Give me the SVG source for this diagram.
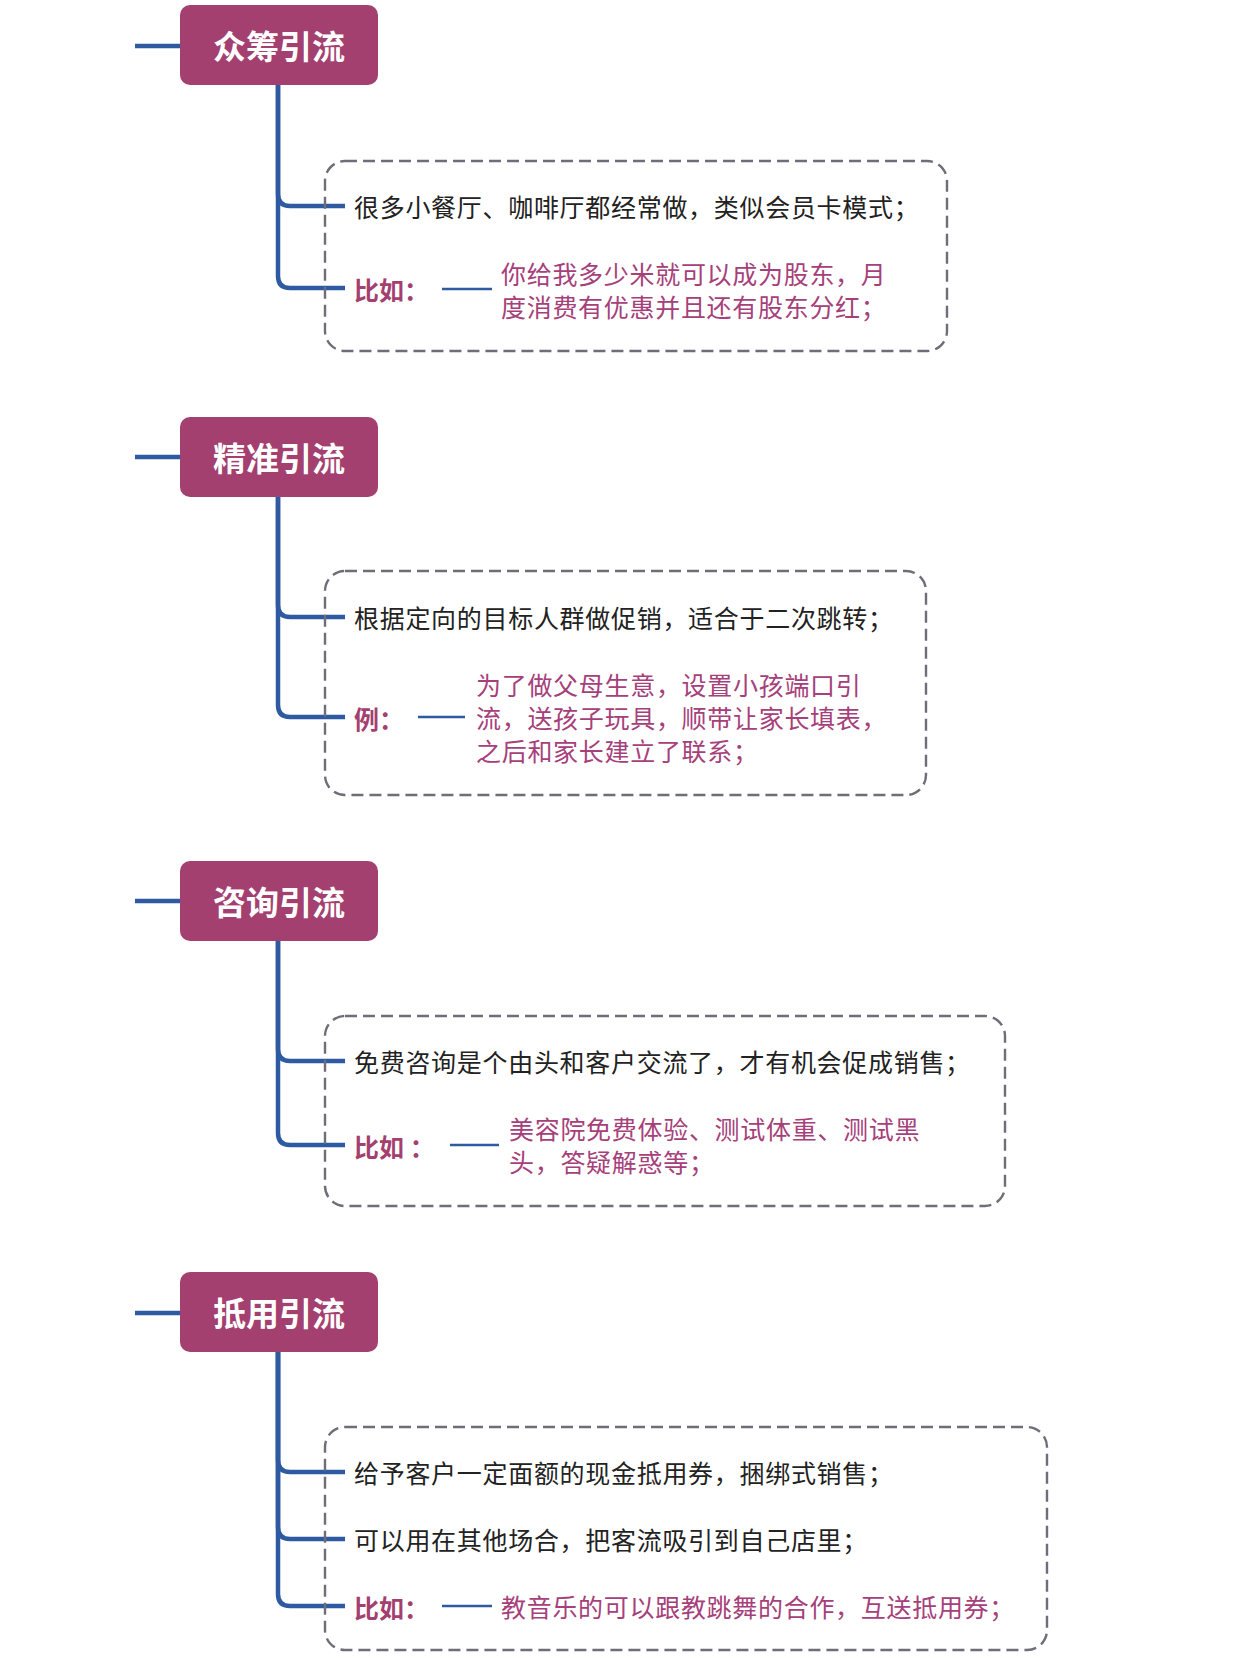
<svg xmlns="http://www.w3.org/2000/svg" width="1244" height="1658" viewBox="0 0 1244 1658">
<style>
.node rect{fill:#a3406f;}
.node text{fill:#ffffff;font-family:"Noto Sans CJK SC","Noto Sans",sans-serif;font-size:33px;font-weight:bold;text-anchor:middle;dominant-baseline:central;}
.box{fill:none;stroke:#6e6e78;stroke-width:2.4;stroke-dasharray:12 6;}
.link{fill:none;stroke:#2d5aa0;stroke-width:4.5;stroke-linecap:butt;}
.dash{fill:none;stroke:#2d5aa0;stroke-width:2.5;}
.t{font-family:"Noto Sans CJK SC","Noto Sans",sans-serif;font-size:25px;letter-spacing:0.7px;fill:#222222;dominant-baseline:central;}
.m{font-family:"Noto Sans CJK SC","Noto Sans",sans-serif;font-size:25px;letter-spacing:0.7px;fill:#a6407a;dominant-baseline:central;}
.lb{font-family:"Noto Sans CJK SC","Noto Sans",sans-serif;font-size:25px;font-weight:bold;fill:#a3406f;dominant-baseline:central;}
</style>
<rect width="1244" height="1658" fill="#ffffff"/>
<g id="connectors">
  <path class="link" d="M135 46 H182"/>
  <path class="link" d="M278 84 V194 Q278 206 290 206 H345"/>
  <path class="link" d="M278 84 V276 Q278 288 290 288 H345"/>
  <path class="dash" d="M442 289 H492"/>

  <path class="link" d="M135 457 H182"/>
  <path class="link" d="M278 496 V605 Q278 617 290 617 H345"/>
  <path class="link" d="M278 496 V705 Q278 717 290 717 H345"/>
  <path class="dash" d="M418 717 H465"/>

  <path class="link" d="M135 901 H182"/>
  <path class="link" d="M278 940 V1049 Q278 1061 290 1061 H345"/>
  <path class="link" d="M278 940 V1133 Q278 1145 290 1145 H345"/>
  <path class="dash" d="M450 1145 H499"/>

  <path class="link" d="M135 1313 H182"/>
  <path class="link" d="M278 1351 V1460 Q278 1472 290 1472 H345"/>
  <path class="link" d="M278 1351 V1527 Q278 1539 290 1539 H345"/>
  <path class="link" d="M278 1351 V1594 Q278 1606 290 1606 H345"/>
  <path class="dash" d="M442 1606 H492"/>
</g>

<g id="node1" class="node"><rect x="180" y="5" width="198" height="80" rx="10"/><text x="279" y="45">众筹引流</text></g>
<g id="box1">
  <rect class="box" x="325" y="161" width="622" height="190" rx="20"/>
  <text class="t" x="354" y="206">很多小餐厅、咖啡厅都经常做，类似会员卡模式；</text>
  <text class="lb" x="354" y="289">比如：</text>
  <text class="m" x="501" y="273">你给我多少米就可以成为股东，月</text>
  <text class="m" x="501" y="306">度消费有优惠并且还有股东分红；</text>
</g>

<g id="node2" class="node"><rect x="180" y="417" width="198" height="80" rx="10"/><text x="279" y="457">精准引流</text></g>
<g id="box2">
  <rect class="box" x="325" y="571" width="601" height="224" rx="20"/>
  <text class="t" x="354" y="617">根据定向的目标人群做促销，适合于二次跳转；</text>
  <text class="lb" x="354" y="718">例：</text>
  <text class="m" x="476" y="684">为了做父母生意，设置小孩端口引</text>
  <text class="m" x="476" y="717">流，送孩子玩具，顺带让家长填表，</text>
  <text class="m" x="476" y="750">之后和家长建立了联系；</text>
</g>

<g id="node3" class="node"><rect x="180" y="861" width="198" height="80" rx="10"/><text x="279" y="901">咨询引流</text></g>
<g id="box3">
  <rect class="box" x="325" y="1016" width="680" height="190" rx="20"/>
  <text class="t" x="354" y="1061">免费咨询是个由头和客户交流了，才有机会促成销售；</text>
  <text class="lb" x="354" y="1146">比如 ：</text>
  <text class="m" x="509" y="1128">美容院免费体验、测试体重、测试黑</text>
  <text class="m" x="509" y="1161">头，答疑解惑等；</text>
</g>

<g id="node4" class="node"><rect x="180" y="1272" width="198" height="80" rx="10"/><text x="279" y="1312">抵用引流</text></g>
<g id="box4">
  <rect class="box" x="325" y="1427" width="722" height="223" rx="20"/>
  <text class="t" x="354" y="1472">给予客户一定面额的现金抵用券，捆绑式销售；</text>
  <text class="t" x="354" y="1539">可以用在其他场合，把客流吸引到自己店里；</text>
  <text class="lb" x="354" y="1607">比如：</text>
  <text class="m" x="501" y="1606">教音乐的可以跟教跳舞的合作，互送抵用券；</text>
</g>
</svg>
